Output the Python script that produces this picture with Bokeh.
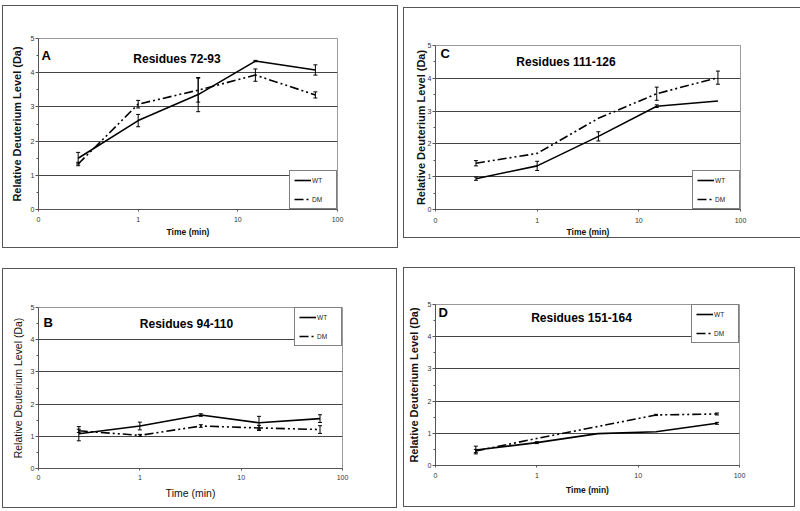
from bokeh.plotting import figure
from bokeh.layouts import column, row
from bokeh.models import (FixedTicker, Whisker, TeeHead, ColumnDataSource, Label, Legend)
from bokeh.embed import file_html
from bokeh.resources import INLINE
import numpy as np

# ---------------- data ----------------
TIME = [0.25, 1, 4, 15, 60]
X_TICKS = [0.1, 1, 10, 100]
X_TICK_LABELS = ["0", "1", "10", "100"]
Y_TICKS = [0, 1, 2, 3, 4, 5]
Y_MINOR = [0.5, 1.5, 2.5, 3.5, 4.5]
SERIES = ["WT", "DM"]

A_WT = [1.50, 2.60, 3.36, 4.34, 4.08]
A_WT_ERR = [0.17, 0.18, 0.50, 0.02, 0.15]
A_DM = [1.33, 3.08, 3.49, 3.93, 3.35]
A_DM_ERR = [0.05, 0.11, 0.35, 0.18, 0.09]

C_WT = [0.94, 1.33, 2.23, 3.15, 3.31]
C_WT_ERR = [0.05, 0.14, 0.14, 0.04, 0.0]
C_DM = [1.41, 1.71, 2.78, 3.53, 4.02]
C_DM_ERR = [0.08, 0.0, 0.0, 0.20, 0.20]

B_WT = [1.08, 1.32, 1.66, 1.42, 1.55]
B_WT_ERR = [0.22, 0.12, 0.04, 0.20, 0.12]
B_DM = [1.17, 1.03, 1.32, 1.26, 1.21]
B_DM_ERR = [0.05, 0.03, 0.04, 0.08, 0.12]

D_WT = [0.48, 0.71, 0.99, 1.05, 1.31]
D_WT_ERR = [0.12, 0.03, 0.0, 0.0, 0.03]
D_DM = [0.45, 0.84, 1.21, 1.57, 1.60]
D_DM_ERR = [0.05, 0.0, 0.0, 0.02, 0.03]

FONT = "Liberation Sans"
DM_DASH = "9 3 2 3 2 3"


def panel(letter, title, wt, wt_err, dm, dm_err, fw, fh, borders, title_dx, title_y,
          letter_dx, letter_y, legend_loc, bold_labels=True, ylab_standoff=5,
          xlab_standoff=2, xtick_standoff=5, margin=0):
    left, right, top, bottom = borders
    p = figure(frame_width=fw, frame_height=fh, x_axis_type="log",
               x_range=(0.1, 100), y_range=(0, 5), title=None,
               output_backend="svg", toolbar_location=None,
               min_border_left=left, min_border_right=right,
               min_border_top=top, min_border_bottom=bottom, margin=margin)
    p.styles = {"border": "1px solid #555"}
    p.background_fill_color = "white"
    p.border_fill_color = "white"
    p.outline_line_color = "#999999"
    p.outline_line_width = 1

    # axes
    p.xaxis.ticker = FixedTicker(ticks=X_TICKS, minor_ticks=[])
    p.xaxis.major_label_overrides = {t: s for t, s in zip(X_TICKS, X_TICK_LABELS)}
    p.yaxis.ticker = FixedTicker(ticks=Y_TICKS, minor_ticks=Y_MINOR)
    for ax in (p.xaxis[0], p.yaxis[0]):
        ax.axis_line_color = "#555555"
        ax.major_tick_line_color = "#555555"
        ax.minor_tick_line_color = "#555555"
        ax.major_tick_in = 0
        ax.major_tick_out = 3
        ax.minor_tick_in = 0
        ax.minor_tick_out = 2
        ax.major_label_text_font = FONT
        ax.major_label_text_font_size = "7px"
        ax.major_label_text_color = "#333333"
        ax.axis_label_text_font = FONT
        ax.axis_label_text_color = "#111111"
    p.xaxis.major_tick_out = 2
    p.xaxis.major_label_standoff = xtick_standoff
    p.yaxis.major_label_standoff = 1
    p.xaxis.axis_label = "Time (min)"
    p.yaxis.axis_label = "Relative Deuterium Level (Da)"
    if bold_labels:
        p.xaxis.axis_label_text_font_style = "bold"
        p.yaxis.axis_label_text_font_style = "bold"
        p.xaxis.axis_label_text_font_size = "8.5px"
        p.yaxis.axis_label_text_font_size = "11px"
    else:
        p.xaxis.axis_label_text_font_style = "normal"
        p.yaxis.axis_label_text_font_style = "normal"
        p.xaxis.axis_label_text_font_size = "10.5px"
        p.yaxis.axis_label_text_font_size = "10.5px"
    p.xaxis.axis_label_standoff = xlab_standoff
    p.yaxis.axis_label_standoff = ylab_standoff

    # grid
    p.xgrid.visible = False
    p.ygrid.grid_line_color = "#444444"
    p.ygrid.grid_line_width = 1

    # error bars
    for vals, errs in ((wt, wt_err), (dm, dm_err)):
        t = np.array(TIME, dtype=float)
        v = np.array(vals, dtype=float)
        e = np.array(errs, dtype=float)
        m = e > 0
        src = ColumnDataSource(dict(x=t[m], upper=(v + e)[m], lower=(v - e)[m]))
        p.add_layout(Whisker(source=src, base="x", upper="upper", lower="lower",
                             dimension="height", line_color="black", line_width=1,
                             upper_head=TeeHead(size=4, line_color="black", line_width=1),
                             lower_head=TeeHead(size=4, line_color="black", line_width=1)))

    # lines
    r_wt = p.line(TIME, wt, line_color="black", line_width=1.6)
    r_dm = p.line(TIME, dm, line_color="black", line_width=1.6, line_dash=DM_DASH)

    legend = Legend(items=[(SERIES[0], [r_wt]), (SERIES[1], [r_dm])],
                    location=legend_loc, margin=0, padding=4, spacing=9,
                    glyph_width=17, glyph_height=10, label_height=10, label_standoff=1,
                    label_text_font=FONT, label_text_font_size="6.5px",
                    label_text_color="#222222",
                    border_line_color="black", border_line_width=1,
                    background_fill_color="white", background_fill_alpha=1)
    p.add_layout(legend)

    # panel title and letter
    p.add_layout(Label(x=10 ** 0.5, y=title_y, x_offset=title_dx, text=title,
                       text_align="center", text_baseline="middle",
                       text_font=FONT, text_font_size="12px", text_font_style="bold",
                       text_color="black"))
    p.add_layout(Label(x=0.1, y=letter_y, x_offset=letter_dx, text=letter,
                       text_align="left", text_baseline="middle",
                       text_font=FONT, text_font_size="13px", text_font_style="bold",
                       text_color="black"))
    return p


pA = panel("A", "Residues 72-93", A_WT, A_WT_ERR, A_DM, A_DM_ERR,
           297, 169, (35, 62, 32, 40), -11, 4.41, 3, 4.50, "bottom_right")
pC = panel("C", "Residues 111-126", C_WT, C_WT_ERR, C_DM, C_DM_ERR,
           303, 162, (30, 64, 37, 30), -22, 4.51, 5, 4.75, "bottom_right",
           ylab_standoff=-2, xlab_standoff=1, xtick_standoff=6, margin=(2, 0, 0, 0))
pB = panel("B", "Residues 94-110", B_WT, B_WT_ERR, B_DM, B_DM_ERR,
           302, 159, (31, 60, 38, 41), -4, 4.50, 5, 4.53, "top_right",
           bold_labels=False, ylab_standoff=4, xlab_standoff=4, xtick_standoff=4)
pD = panel("D", "Residues 151-164", D_WT, D_WT_ERR, D_DM, D_DM_ERR,
           302, 159, (30, 57, 36, 43), -6, 4.59, 3, 4.75, "top_right",
           xlab_standoff=4)

layout = row(column(pA, pB, spacing=20), column(pC, pD, spacing=29), spacing=5,
             margin=(5, 0, 0, 2))

with open("out.html", "w") as f:
    f.write(file_html(layout, INLINE))
